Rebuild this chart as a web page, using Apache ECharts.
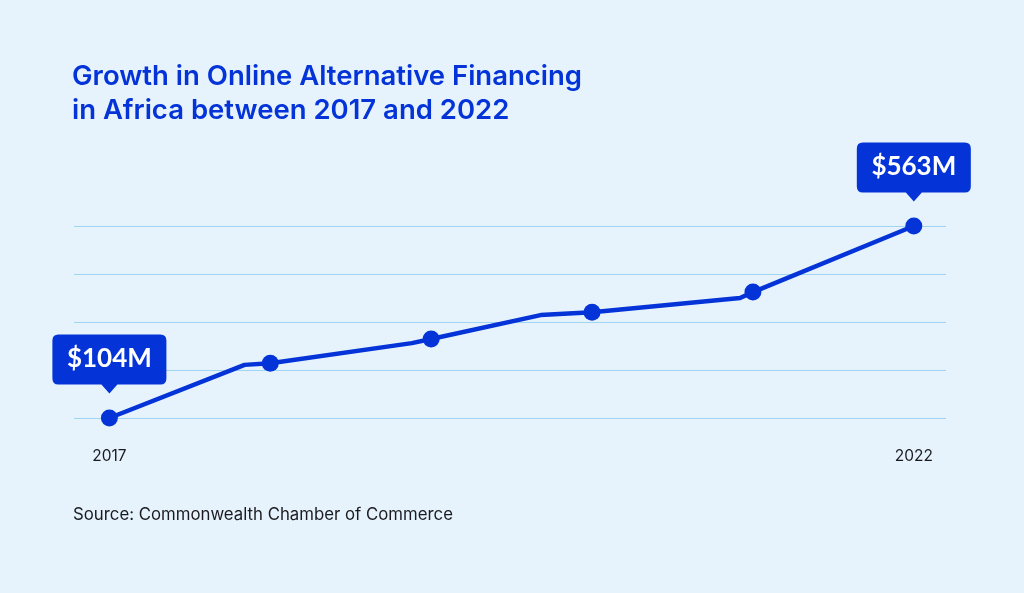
<!DOCTYPE html>
<html>
<head>
<meta charset="utf-8">
<script src="https://cdn.jsdelivr.net/npm/echarts@6/dist/echarts.min.js"></script>
<style>
  html, body { margin: 0; padding: 0; background: #e6f3fd; }
  #chart { width: 1024px; height: 593px; }
</style>
</head>
<body>
<div id="chart"></div>
<script>
// years on the x axis, one per point
const years = ['2017', '2018', '2019', '2020', '2021', '2022'];
// value at each yearly dot ($M)
const pointValues = [104, 235, 293, 357, 405, 563];
// the drawn line bends slightly before some dots: [year index, value]
const linePath = [
  [0, 104], [0.84, 231], [1, 235], [1.88, 283], [2, 293],
  [2.68, 350], [3, 357], [3.92, 391], [4, 405], [5, 563]
];
// only the first and last year get a label and a callout
const labelledYears = [0, 5];

const blue = '#0433d8';

const chart = echarts.init(document.getElementById('chart'));

// callout box with a little pointer at the bottom
const calloutPath = 'path://M6 0 H108 Q114 0 114 6 V44 Q114 50 108 50 H65 L57 59 L49 50 H6 Q0 50 0 44 V6 Q0 0 6 0 Z';

const option = {
  backgroundColor: '#e6f3fd',
  animation: false,
  title: {
    text: 'Growth in Online Alternative Financing\nin Africa between 2017 and 2022',
    left: 67,
    top: 55,
    textStyle: {
      color: blue,
      fontFamily: 'Inter',
      fontWeight: 600,
      fontSize: 27.5,
      lineHeight: 34
    }
  },
  graphic: [{
    type: 'text',
    left: 73,
    top: 506,
    style: {
      text: 'Source: Commonwealth Chamber of Commerce',
      fill: '#1b1b1f',
      font: '400 16.8px Inter'
    }
  }],
  grid: { left: 74, right: 78, top: 226, bottom: 175 },
  xAxis: {
    type: 'value',
    min: -0.22,
    max: 5.2,
    axisLine: { show: false },
    axisTick: { show: false },
    splitLine: { show: false },
    axisLabel: {
      customValues: labelledYears,
      formatter: v => years[Math.round(v)],
      margin: 30,
      color: '#1b1b1f',
      fontFamily: 'Inter',
      fontSize: 15.5
    }
  },
  yAxis: {
    type: 'value',
    min: 104,
    max: 563,
    interval: 114.75,
    axisLine: { show: false },
    axisTick: { show: false },
    axisLabel: { show: false },
    splitLine: { lineStyle: { color: '#9fd4f2', width: 1 } }
  },
  series: [
    {
      type: 'line',
      data: linePath,
      symbol: 'none',
      lineStyle: { color: blue, width: 4.5, join: 'round' },
      z: 2
    },
    {
      type: 'scatter',
      data: pointValues.map((v, i) => [i, v]),
      symbolSize: 17,
      itemStyle: { color: blue, opacity: 1 },
      z: 3,
      markPoint: {
        symbol: calloutPath,
        symbolSize: [114, 59],
        symbolOffset: [0, -54],
        itemStyle: { color: blue },
        label: {
          show: true,
          color: '#ffffff',
          fontFamily: 'Lato',
          fontWeight: 700,
          fontSize: 26,
          offset: [0, -5],
          formatter: p => '$' + p.value + 'M'
        },
        data: labelledYears.map(i => ({ coord: [i, pointValues[i]], value: pointValues[i] }))
      }
    }
  ]
};

chart.setOption(option);
</script>
</body>
</html>
